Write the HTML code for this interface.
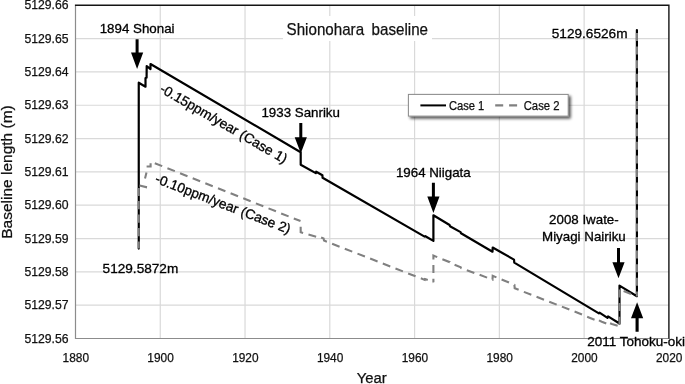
<!DOCTYPE html>
<html lang="en"><head><meta charset="utf-8"><title>Shionohara baseline</title>
<style>html,body{margin:0;padding:0;background:#fff}body{width:685px;height:384px;overflow:hidden}svg{display:block}text{font-family:"Liberation Sans",Arial,Helvetica,sans-serif;fill:#000;stroke:#000;stroke-width:.3px}.c{fill:#111;stroke:#111;stroke-width:.25px}</style>
</head><body>
<svg width="685" height="384" viewBox="0 0 685 384">
<defs><filter id="sh" x="-10%" y="-30%" width="125%" height="180%"><feGaussianBlur in="SourceAlpha" stdDeviation="1.6"/><feOffset dx="2.2" dy="2.2"/><feComponentTransfer><feFuncA type="linear" slope="0.68"/></feComponentTransfer><feMerge><feMergeNode/><feMergeNode in="SourceGraphic"/></feMerge></filter></defs>
<rect width="685" height="384" fill="#fff"/>
<path d="M160.27 5.3V338.5M245.04 5.3V338.5M329.81 5.3V338.5M414.59 5.3V338.5M499.36 5.3V338.5M584.13 5.3V338.5M75.5 38.62H668.9M75.5 71.94H668.9M75.5 105.26H668.9M75.5 138.58H668.9M75.5 171.90H668.9M75.5 205.22H668.9M75.5 238.54H668.9M75.5 271.86H668.9M75.5 305.18H668.9" stroke="#d9d9d9" stroke-width="1.2" fill="none"/>
<rect x="283" y="16" width="149" height="25" fill="#fff"/>
<path d="M74.9 5.3H668.9V339.1" fill="none" stroke="#141414" stroke-width="1.4"/>
<path d="M75.5 6.0V338.5H668.1999999999999" stroke="#8c8c8c" stroke-width="1.2" fill="none"/>
<text class="c" x="68.5" y="8.90" font-size="12.3" text-anchor="end" textLength="44.1" lengthAdjust="spacingAndGlyphs">5129.66</text>
<text class="c" x="68.5" y="42.72" font-size="12.3" text-anchor="end" textLength="44.1" lengthAdjust="spacingAndGlyphs">5129.65</text>
<text class="c" x="68.5" y="76.04" font-size="12.3" text-anchor="end" textLength="44.1" lengthAdjust="spacingAndGlyphs">5129.64</text>
<text class="c" x="68.5" y="109.36" font-size="12.3" text-anchor="end" textLength="44.1" lengthAdjust="spacingAndGlyphs">5129.63</text>
<text class="c" x="68.5" y="142.68" font-size="12.3" text-anchor="end" textLength="44.1" lengthAdjust="spacingAndGlyphs">5129.62</text>
<text class="c" x="68.5" y="176.00" font-size="12.3" text-anchor="end" textLength="44.1" lengthAdjust="spacingAndGlyphs">5129.61</text>
<text class="c" x="68.5" y="209.32" font-size="12.3" text-anchor="end" textLength="44.1" lengthAdjust="spacingAndGlyphs">5129.60</text>
<text class="c" x="68.5" y="242.64" font-size="12.3" text-anchor="end" textLength="44.1" lengthAdjust="spacingAndGlyphs">5129.59</text>
<text class="c" x="68.5" y="275.96" font-size="12.3" text-anchor="end" textLength="44.1" lengthAdjust="spacingAndGlyphs">5129.58</text>
<text class="c" x="68.5" y="309.28" font-size="12.3" text-anchor="end" textLength="44.1" lengthAdjust="spacingAndGlyphs">5129.57</text>
<text class="c" x="68.5" y="342.60" font-size="12.3" text-anchor="end" textLength="44.1" lengthAdjust="spacingAndGlyphs">5129.56</text>
<text class="c" x="75.80" y="362" font-size="12" text-anchor="middle" textLength="26.4" lengthAdjust="spacingAndGlyphs">1880</text>
<text class="c" x="160.57" y="362" font-size="12" text-anchor="middle" textLength="26.4" lengthAdjust="spacingAndGlyphs">1900</text>
<text class="c" x="245.34" y="362" font-size="12" text-anchor="middle" textLength="26.4" lengthAdjust="spacingAndGlyphs">1920</text>
<text class="c" x="330.11" y="362" font-size="12" text-anchor="middle" textLength="26.4" lengthAdjust="spacingAndGlyphs">1940</text>
<text class="c" x="414.89" y="362" font-size="12" text-anchor="middle" textLength="26.4" lengthAdjust="spacingAndGlyphs">1960</text>
<text class="c" x="499.66" y="362" font-size="12" text-anchor="middle" textLength="26.4" lengthAdjust="spacingAndGlyphs">1980</text>
<text class="c" x="584.43" y="362" font-size="12" text-anchor="middle" textLength="26.4" lengthAdjust="spacingAndGlyphs">2000</text>
<text class="c" x="669.20" y="362" font-size="12" text-anchor="middle" textLength="26.4" lengthAdjust="spacingAndGlyphs">2020</text>
<text class="c" x="371.8" y="383" font-size="14" text-anchor="middle" textLength="30" lengthAdjust="spacingAndGlyphs">Year</text>
<text class="c" transform="translate(11.6 172) rotate(-90)" font-size="14" text-anchor="middle" textLength="133.5" lengthAdjust="spacingAndGlyphs">Baseline length (m)</text>
<text class="c" x="357.3" y="35" font-size="16.4" word-spacing="3.6" text-anchor="middle" textLength="141.4" lengthAdjust="spacingAndGlyphs">Shionohara baseline</text>
<polyline fill="none" stroke="#000" stroke-width="2.2" stroke-linejoin="round" stroke-linecap="round" points="138.75,248.6 138.75,82.7 145.5,86.7 145.5,78.0 146.6,77.6 146.7,66.0 150.5,69.1 150.5,64.0 300.7,152.3 300.7,164.7 315.8,173.1 316.2,171.7 322.4,175.2 322.6,177.8 424.6,236.6 425.4,236.2 433.4,240.9 433.4,215.3 449.6,225.0 450,226.2 460.6,232.1 461,233.3 492.5,251.7 492.7,247.5 514,259.6 514.3,262.6 598.9,313.4 599.5,312.6 607.5,317.8 608.1,316.4 619.5,323.5 619.5,285.6 636.9,296.2 636.9,30.0"/>
<polyline fill="none" stroke="#808080" stroke-width="2.1" stroke-dasharray="8.3 5.2" stroke-dashoffset="0" points="138.75,201 138.75,248.6"/>
<polyline fill="none" stroke="#808080" stroke-width="2.1" stroke-dasharray="none" stroke-dashoffset="0" points="138.75,196 138.75,188"/>
<polyline fill="none" stroke="#808080" stroke-width="2.1" stroke-dasharray="none" stroke-dashoffset="0" points="139.6,185.5 146,187.1 146.1,186"/>
<polyline fill="none" stroke="#808080" stroke-width="2.1" stroke-dasharray="none" stroke-dashoffset="0" points="145,178.4 146.5,172.6"/>
<polyline fill="none" stroke="#808080" stroke-width="2.1" stroke-dasharray="none" stroke-dashoffset="0" points="146.6,166.5 150.6,166.5 150.6,163.3"/>
<polyline fill="none" stroke="#808080" stroke-width="2.1" stroke-dasharray="8 5.6" stroke-dashoffset="9.1" points="150.6,161.5 300.5,221.1"/>
<polyline fill="none" stroke="#808080" stroke-width="2.1" stroke-dasharray="8 5.6" stroke-dashoffset="8.0" points="300.6,221.1 300.7,232.2 320,237.9 320.4,237.2 323.6,238.4 324,240.6 424.8,279.9 425.2,279.0 433.4,282.2"/>
<polyline fill="none" stroke="#808080" stroke-width="2.1" stroke-dasharray="8 5.6" stroke-dashoffset="4.5" points="433.4,282.2 433.4,255.6 449.8,262.2 450.2,263.0 460.8,267.3 461.2,268.1 492.5,279.6 492.7,275.8 514.4,284.8 514.7,288.3 577,312.5 589.5,317.7 598,321.2 598.2,320.1 601.8,321.7 608,324.2 608.2,322.5 611.9,324 619.5,326.3"/>
<polyline fill="none" stroke="#808080" stroke-width="2.1" stroke-dasharray="8 5.6" stroke-dashoffset="0" points="619.5,289.5 619.5,325.4"/>
<polyline fill="none" stroke="#808080" stroke-width="2.1" stroke-dasharray="8 5.6" stroke-dashoffset="0" points="623.6,291.1 635.4,295.8"/>
<polyline fill="none" stroke="#808080" stroke-width="2.1" stroke-dasharray="8 5.6" stroke-dashoffset="0" points="636.9,33.0 636.9,296.4"/>
<path d="M135.6 39.2H138.6V52.6H143.2L137.1 69.0L131.0 52.6H135.6ZM299.3 123.1H302.3V137.3H306.90000000000003L300.8 153.2L294.7 137.3H299.3ZM431.9 182.8H434.9V196.5H439.5L433.4 213.0L427.29999999999995 196.5H431.9ZM617.0 248.1H620.0V262.3H624.6L618.5 278.2L612.4 262.3H617.0ZM635.5500000000001 331.7H638.65V318.3H643.2L637.1 302.2L631.0 318.3H635.5500000000001Z" fill="#000"/>
<text x="99.7" y="32.5" font-size="13.33">1894 Shonai</text>
<text x="102.6" y="272.8" font-size="13.62">5129.5872m</text>
<text x="261.4" y="116.9" font-size="13.33">1933 Sanriku</text>
<text x="395.9" y="176.5" font-size="13.33">1964 Niigata</text>
<text x="583.9" y="224.4" font-size="13.33" text-anchor="middle">2008 Iwate-</text>
<text x="583.9" y="240.5" font-size="13.33" text-anchor="middle">Miyagi Nairiku</text>
<text x="551.8" y="38.2" font-size="13.62">5129.6526m</text>
<text x="587.3" y="346.1" font-size="13.5">2011 Tohoku-oki</text>
<text transform="translate(158.9 91.4) rotate(30.1)" font-size="13.7">-0.15ppm/year (Case 1)</text>
<text transform="translate(154.2 182.3) rotate(21)" font-size="13.64">-0.10ppm/year (Case 2)</text>
<g><rect x="408.4" y="94.4" width="159.8" height="21.7" fill="#fff" stroke="#8a8a8a" stroke-width="1" filter="url(#sh)"/>
<path d="M420.4 105.4H446" stroke="#000" stroke-width="2" fill="none"/>
<path d="M495.2 105.4H518" stroke="#808080" stroke-width="2.1" stroke-dasharray="8 5.9" fill="none"/>
<text class="c" x="448.9" y="109.6" font-size="12.2" textLength="35.4" lengthAdjust="spacingAndGlyphs">Case 1</text>
<text class="c" x="523.7" y="109.6" font-size="12.2" textLength="35.8" lengthAdjust="spacingAndGlyphs">Case 2</text></g>
</svg></body></html>
